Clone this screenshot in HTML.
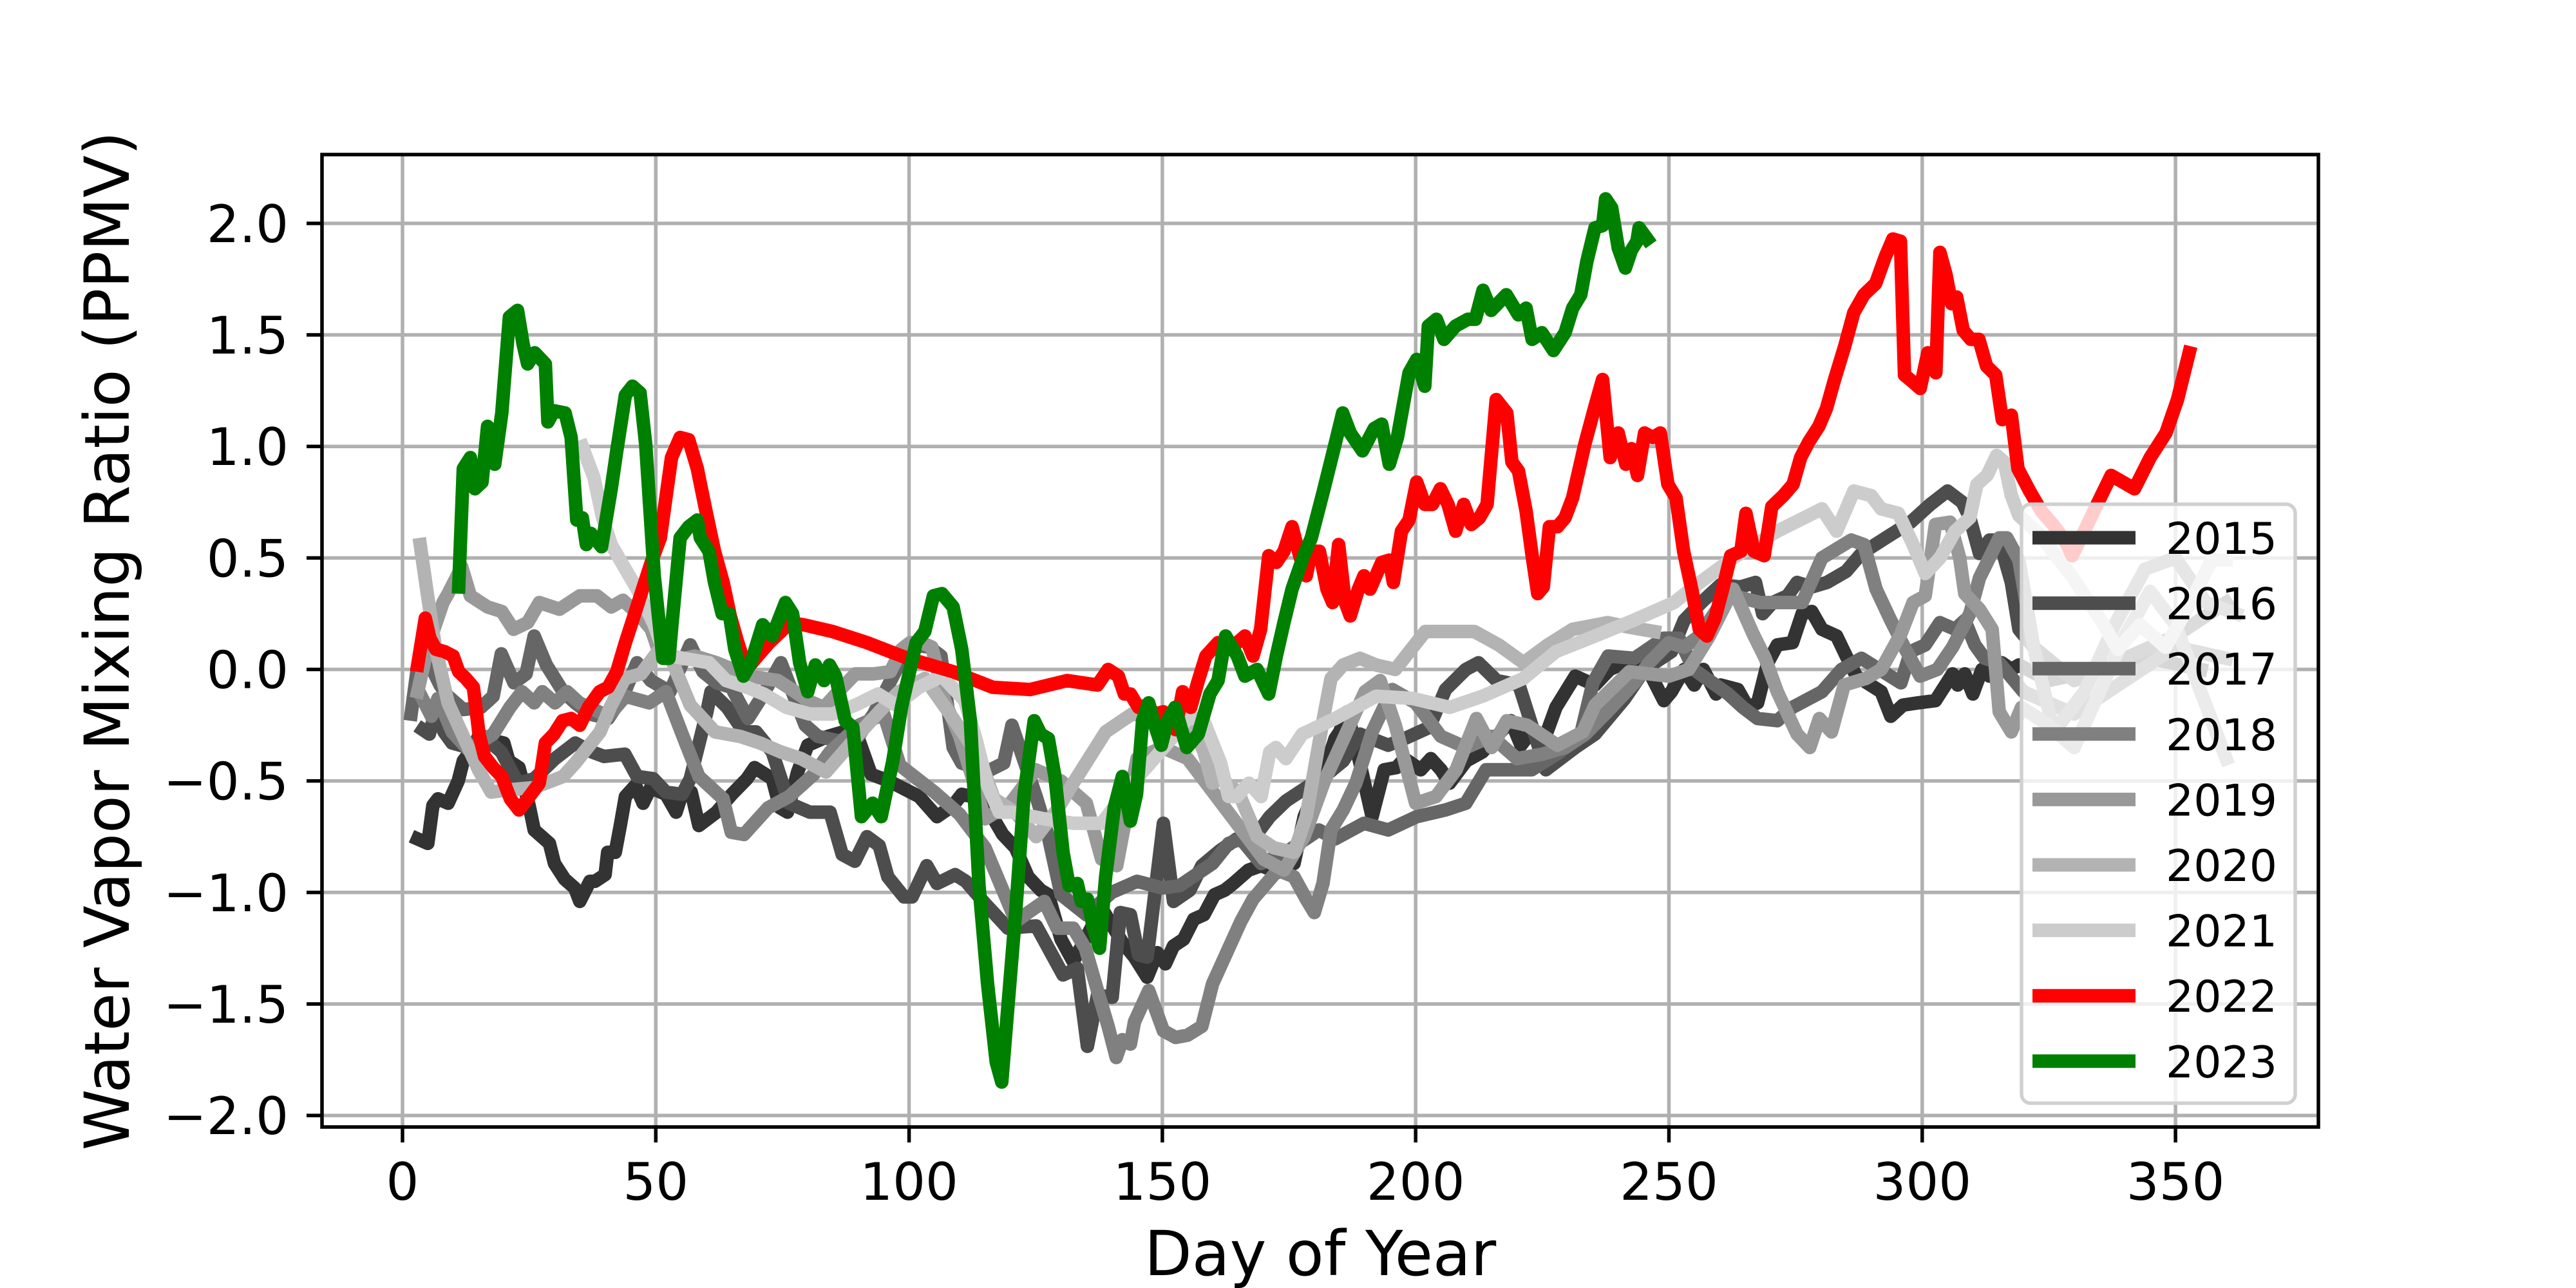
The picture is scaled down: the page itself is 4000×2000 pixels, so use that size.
<!DOCTYPE html>
<html><head><meta charset="utf-8">
<style>
html,body{margin:0;padding:0;background:#fff;}
svg{display:block;font-family:"DejaVu Sans","Liberation Sans",sans-serif;}
</style></head>
<body>
<svg id="chart" width="4000" height="2000" viewBox="0 0 4000 2000" xmlns="http://www.w3.org/2000/svg">
<rect x="0" y="0" width="4000" height="2000" fill="#fff"/>
<g id="grid"></g>
<g id="series"></g>
<g id="axes"></g>
<g id="legend"></g>
<text x="2050" y="1980" font-size="96" text-anchor="middle">Day of Year</text>
<text transform="translate(200,995) rotate(-90)" font-size="96" text-anchor="middle">Water Vapor Mixing Ratio (PPMV)</text>
</svg>
<script>
const xTicks = [0, 50, 100, 150, 200, 250, 300, 350];
const yTicks = [-2.0, -1.5, -1.0, -0.5, 0.0, 0.5, 1.0, 1.5, 2.0];
const years = ["2015","2016","2017","2018","2019","2020","2021","2022","2023"];
const colors = ["#333333","#4d4d4d","#666666","#808080","#999999","#b3b3b3","#cccccc","#ff0000","#008000"];

const d2015 = [3,5,6,7,9,11,12,14,15,16,18,20,21,23,25,26,29,30,32,34,35,37,38,40,40.5,42,43,44,46,47.5,49,52,54,55,57,58.5,62,65,68,69.5,73,74.5,76,78,80,84,87,90,92.5,96,102,105.5,108.7,110.4,114.4,118.5,121,123.5,126,127.5,130,132.4,135,138,142,144.5,147,149,150.6,152.2,154.2,156.2,158.2,160.3,162.3,164,167,169.5,172.8,176,178,182.5,184.1,185,186.5,189,191.4,193.8,196.2,197.8,201,203,205,206.7,210,213.2,216.4,218.8,220.8,222.8,225.3,227.7,231.5,235.4,238.3,241.3,245.2,249,250.5,253,255,256.8,259.3,260.2,263.6,265.6,267.5,269.5,271.4,274.4,276.3,278.2,280.2,283.1,285,287,291.9,293.8,296.2,299.2,302.6,306,307,308.4,310,311.8,313.3,315.7,317.6,319.1,325,335,345,355,362];
const v2015 = [-0.76,-0.78,-0.61,-0.58,-0.6,-0.5,-0.41,-0.35,-0.3,-0.33,-0.32,-0.33,-0.41,-0.44,-0.61,-0.72,-0.78,-0.87,-0.94,-0.98,-1.04,-0.95,-0.95,-0.92,-0.82,-0.82,-0.7,-0.57,-0.52,-0.6,-0.53,-0.56,-0.64,-0.57,-0.55,-0.7,-0.64,-0.56,-0.49,-0.44,-0.49,-0.62,-0.64,-0.46,-0.34,-0.3,-0.28,-0.31,-0.47,-0.5,-0.57,-0.66,-0.61,-0.56,-0.58,-0.74,-0.8,-0.93,-0.99,-1.01,-1.21,-1.31,-1.2,-1.07,-1.22,-1.29,-1.38,-1.27,-1.32,-1.24,-1.21,-1.12,-1.1,-1.01,-0.99,-0.96,-0.9,-0.88,-0.91,-0.87,-0.66,-0.42,-0.31,-0.28,-0.19,-0.42,-0.66,-0.45,-0.44,-0.4,-0.45,-0.4,-0.45,-0.51,-0.41,-0.37,-0.29,-0.23,-0.34,-0.28,-0.32,-0.17,-0.03,-0.07,0.0,0.03,0.03,-0.14,-0.1,0.0,-0.07,0.0,-0.11,-0.07,-0.09,-0.17,-0.15,0.03,0.11,0.12,0.25,0.26,0.18,0.15,0.06,-0.03,-0.1,-0.21,-0.16,-0.15,-0.14,-0.02,-0.07,-0.02,-0.11,0.0,-0.03,0.03,0.0,0.02,-0.05,0.0,0.05,0.0];

const d2016 = [4,5.3,6.5,8.2,9.8,13,16,19.5,22.8,26,30.1,34.1,37.4,39.8,43.9,46.3,49.5,52,55.2,56.8,60.1,60.9,64.1,67.4,69.8,73,76.3,80.4,84.4,86.8,89.3,91.7,94.1,95.8,99,100.6,103.5,105.5,109.1,111.2,115,119.5,125.1,130.4,133.2,135.2,137.2,140.1,141.7,143.7,145.3,147,150.2,152.2,155.4,157.8,161.5,164.7,167.9,171.2,174.4,178.4,182.5,185.7,189,194.6,197.8,202.7,205.9,209.9,212.4,216,220.4,225.7,231.5,235.4,241.3,245.2,250.5,253,256.4,260.2,264.1,267.1,268.5,270.5,273.4,275.3,278.2,281.2,285,288,292.8,297.7,301.6,305,307.9,309.4,311.3,313.3,315.2,317.6,319.1,322,330,340,350,360];
const v2016 = [-0.27,-0.29,-0.19,-0.28,-0.33,-0.35,-0.3,-0.37,-0.51,-0.49,-0.4,-0.33,-0.37,-0.39,-0.38,-0.48,-0.49,-0.55,-0.56,-0.49,-0.19,-0.1,-0.17,-0.28,-0.28,-0.37,-0.6,-0.64,-0.64,-0.83,-0.86,-0.75,-0.79,-0.93,-1.02,-1.02,-0.88,-0.96,-0.92,-0.95,-1.05,-1.16,-1.15,-1.37,-1.34,-1.69,-1.46,-1.47,-1.09,-1.1,-1.28,-1.29,-0.69,-1.04,-0.99,-0.88,-0.81,-0.76,-0.76,-0.66,-0.59,-0.53,-0.47,-0.41,-0.29,-0.34,-0.31,-0.26,-0.09,0.0,0.03,-0.05,-0.07,-0.45,-0.35,-0.29,-0.13,0.0,0.08,0.22,0.3,0.38,0.37,0.39,0.25,0.3,0.33,0.39,0.37,0.39,0.44,0.52,0.59,0.66,0.74,0.8,0.75,0.68,0.52,0.58,0.58,0.39,0.18,0.1,-0.05,0.05,0.15,0.3];

const d2017 = [1.7,2.9,5.7,7.4,9,12,15.5,17.9,19.5,22,24.4,26,28.4,31.7,34.1,37,40.6,43.5,46.3,49,52.8,56.8,59.3,62,64.9,68.2,71,74.7,79.5,82,86,90,93,96.6,98.2,100.6,104,106.3,108.7,110.4,115.2,118.7,120.3,125.1,127.5,130,135,140,145,150,153.4,159.9,163.1,165.5,169.5,174.4,180.9,184.1,189.8,194.6,200.2,205.9,209.9,213.9,222.9,228.5,232.6,235,238,243.2,249,252,254.9,261.7,264.6,267.5,271.4,274.4,280.2,284.1,288,295.8,297.7,300.6,303.5,306.5,308.4,310.4,312.3,315.2,320,330,340,350,360];
const v2017 = [-0.2,0.0,0.01,-0.07,-0.12,-0.18,-0.17,-0.12,0.07,-0.06,-0.02,0.15,0.02,-0.1,-0.15,-0.2,-0.22,-0.12,0.03,-0.05,-0.1,0.11,-0.01,-0.06,-0.08,-0.22,-0.12,0.03,-0.25,-0.3,-0.32,-0.3,-0.2,-0.04,0.03,0.11,0.1,0.06,-0.35,-0.42,-0.46,-0.42,-0.25,-0.57,-0.75,-1.01,-1.1,-1.0,-0.95,-0.98,-0.97,-0.87,-0.78,-0.76,-0.87,-0.82,-0.72,-0.76,-0.69,-0.72,-0.66,-0.63,-0.6,-0.45,-0.45,-0.37,-0.29,-0.06,0.06,0.05,0.14,0.14,0.0,-0.11,-0.17,-0.22,-0.23,-0.17,-0.1,0.0,0.05,-0.06,0.08,0.11,0.21,0.18,0.22,0.11,0.05,0.03,-0.1,-0.2,-0.05,0.1,0.05];

const d2018 = [3.7,5.7,7,9.8,13,17.9,21.2,23.6,26,27.6,30.1,32.5,34.9,40.6,44,48.7,52,55.2,58.5,63.3,64.9,67.4,72.2,76.3,81.2,84.4,90.1,95,98.2,101,105,110,115,121.1,123.5,126.7,129.2,132.4,134.8,137.2,139.3,140.9,142.1,143.7,144.5,147.3,150.2,152.6,155,157.8,159.9,163.1,165.5,167.9,172.8,176,178.4,180,181.7,183.3,185.7,188.2,191.4,195.4,200,205,210,215,220,225,229.6,233.5,237.4,243.2,246.1,250,253,256,259.8,262.7,268,276.3,280.2,286,288.5,290.9,293.8,296.7,299.6,303,306,309.4,311.3,315.2,316.7,319.1,322,326,332,338,344,350,356,362];
const v2018 = [-0.12,-0.21,-0.13,-0.28,-0.36,-0.29,-0.17,-0.1,-0.15,-0.1,-0.15,-0.1,-0.15,-0.21,-0.12,-0.15,-0.1,-0.29,-0.48,-0.58,-0.73,-0.74,-0.62,-0.57,-0.47,-0.37,-0.25,-0.2,-0.43,-0.48,-0.55,-0.65,-0.8,-1.13,-1.09,-1.04,-1.16,-1.16,-1.25,-1.44,-1.6,-1.74,-1.66,-1.68,-1.58,-1.44,-1.62,-1.65,-1.64,-1.6,-1.41,-1.25,-1.13,-1.03,-0.9,-0.93,-1.03,-1.09,-0.96,-0.72,-0.63,-0.51,-0.28,-0.09,-0.15,-0.3,-0.35,-0.3,-0.4,-0.38,-0.35,-0.29,-0.2,-0.06,0.03,0.12,0.1,0.15,0.28,0.33,0.3,0.3,0.5,0.58,0.56,0.36,0.22,0.09,-0.03,0.0,0.1,0.25,0.41,0.59,0.59,0.49,0.1,-0.28,-0.1,0.2,0.45,0.5,0.3,0.25];

const d2019 = [3,5,8,9,11.7,13.4,16.8,19.6,21.9,24.7,27,31,35,38.4,41.2,43.5,46.9,49.1,50.9,54,57.7,62,68.4,74.1,77.5,80,83.2,86,89.4,93,96.3,98.5,100.2,102.5,104.5,107,110,112,115,120,125,130,135,138,141,145,150,155,160,165,170,174,178,182,186,190,193,196,200,204,208,212,215,218,222,228,233,235.4,242.2,250,253.9,258,262.7,266.6,269,271.4,275.3,277.8,279.7,282.1,284.6,288.9,291.9,295.8,298.2,300.6,302.6,305.5,307.4,308.4,311.3,313.8,315.2,317.6,319.6,325,330,335,340,345,350,355,360];
const v2019 = [-0.1,0.1,0.3,0.34,0.46,0.33,0.28,0.26,0.18,0.21,0.3,0.27,0.33,0.33,0.28,0.31,0.24,0.18,0.06,0.04,0.06,0.03,-0.03,-0.05,-0.1,-0.14,-0.17,-0.1,-0.02,-0.02,-0.01,0.09,0.12,0.12,0.1,-0.14,-0.3,-0.45,-0.67,-0.6,-0.45,-0.5,-0.6,-0.85,-0.88,-0.4,-0.35,-0.4,-0.55,-0.7,-0.85,-0.9,-0.75,-0.5,-0.3,-0.1,-0.05,-0.25,-0.6,-0.57,-0.45,-0.22,-0.35,-0.23,-0.25,-0.34,-0.28,-0.16,-0.01,-0.03,0.0,0.15,0.36,0.16,0.05,-0.1,-0.29,-0.35,-0.22,-0.28,-0.07,-0.04,0.0,0.16,0.3,0.33,0.65,0.66,0.5,0.34,0.27,0.18,-0.19,-0.28,-0.17,-0.25,-0.35,-0.1,0.15,0.35,0.2,-0.1,-0.4];

const d2020 = [3.5,4.9,6.5,9,12,15,17.5,21,26,31.7,34.1,39,41,43.9,47.1,50.4,53,56.8,61.7,66.6,70.6,74.7,78.7,83.6,90.1,94.1,98,103.1,108.7,112,114.4,116.8,120.9,125.1,129.2,132.4,138.8,144,149.4,155.4,158.2,159.9,161.5,165,168.7,172,176,178.4,180,181.7,183.3,185.7,189,192.2,196,201.9,211.6,216.4,221.3,226.1,231,237.9,242,247.1];
const v2020 = [0.56,0.34,0.1,-0.15,-0.3,-0.45,-0.55,-0.54,-0.53,-0.48,-0.42,-0.28,-0.17,-0.04,-0.02,0.08,0.05,-0.16,-0.28,-0.3,-0.33,-0.37,-0.4,-0.46,-0.29,-0.19,-0.1,-0.04,-0.22,-0.33,-0.43,-0.58,-0.64,-0.75,-0.63,-0.51,-0.28,-0.2,-0.22,-0.22,-0.37,-0.51,-0.49,-0.55,-0.75,-0.8,-0.82,-0.66,-0.45,-0.23,-0.04,0.02,0.05,0.02,0.0,0.17,0.17,0.11,0.03,0.11,0.18,0.21,0.19,0.17];

const d2021 = [35.5,37.8,39.5,41.2,44,46.3,49.7,51.4,53.1,55.4,60.5,63.9,68,71.3,75.8,80.4,84.9,89.4,93.9,97.4,102,106.5,111,113.3,115.5,117.8,120.1,126.7,132.4,138,145.3,151.8,155,158,161.5,163.1,164.7,167.1,169.5,171.2,172.4,174.4,177.6,184.1,192.2,199.4,206.7,213.2,221.3,227.7,235.4,243,251,254.9,262.7,271.4,280.2,283.1,286.5,289.9,291.9,295.3,298.2,300.6,303.5,306.5,309.4,310.8,312.8,314.7,316.2,317.6,319.1,323,329.8,335.6,338.6,343,348,353,357.1,360];
const v2021 = [1.0,0.86,0.68,0.56,0.45,0.36,0.2,0.09,0.06,0.05,0.03,-0.05,-0.08,-0.11,-0.17,-0.2,-0.2,-0.16,-0.11,-0.16,-0.08,-0.03,-0.14,-0.32,-0.52,-0.64,-0.64,-0.67,-0.69,-0.69,-0.48,-0.31,-0.22,-0.22,-0.42,-0.57,-0.57,-0.51,-0.57,-0.37,-0.35,-0.4,-0.29,-0.22,-0.12,-0.13,-0.17,-0.12,-0.04,0.08,0.15,0.22,0.3,0.37,0.5,0.62,0.72,0.62,0.8,0.78,0.72,0.7,0.56,0.43,0.5,0.62,0.68,0.83,0.87,0.96,0.93,0.78,0.69,0.61,0.41,0.21,0.09,0.2,0.1,0.3,0.49,0.49];

const d2022 = [3,4.5,5.4,6.6,8.3,10,11.1,12.5,14,15.1,16.2,17.9,19.6,21.3,23,24.7,27,28.2,29.9,31.6,33.3,35,36.7,38.9,40.6,42.3,44,45.7,47.4,49.1,50.9,52,53.1,54.8,56.5,58.2,59.9,61.6,63.3,64.7,66.2,67.9,70.1,72.4,74.7,76.4,79.2,84.9,91.7,99.7,108.7,116.5,123.9,131.2,137.2,139.3,141.3,142.5,143.7,145.3,147,148.5,150.2,151.4,152.6,154,155.6,157.1,158.6,161,163.3,166.3,167.9,169.4,171,172.5,174,175.6,177.1,178.4,179.4,181,182.5,183.6,184.8,186.1,187.1,188.7,189.8,191,193.3,194.8,195.6,197.2,198.7,200.2,201.8,203.3,204.9,206.4,207.9,209.5,211,212.6,214.1,215.9,218,219,220.3,221.8,223,224.1,225.2,226.4,228,229.5,231,233.4,235.4,236.9,238.4,240,241.5,242.6,243.8,245.2,246.8,248.3,249.8,251.4,252.9,254.5,256,257.5,259.1,260.6,262.2,264.2,265.2,266.8,268.8,270.3,272.6,274.5,276,277.6,279.6,281.1,282.7,284.7,286.5,288.5,290.8,292.7,294.2,295.7,296.5,298.1,299.6,301.1,302.7,303.5,304.7,305.8,306.8,308.1,309.6,311.2,312.7,314.5,315.8,317.6,318.9,321.2,323.5,325.8,328.1,329.6,332,334.3,337.3,341.9,345,348.1,350.4,352.7];
const v2022 = [0.02,0.23,0.14,0.09,0.08,0.06,-0.01,-0.04,-0.08,-0.29,-0.39,-0.44,-0.48,-0.58,-0.63,-0.58,-0.51,-0.33,-0.29,-0.23,-0.22,-0.25,-0.17,-0.1,-0.08,-0.01,0.12,0.24,0.36,0.48,0.59,0.77,0.95,1.04,1.03,0.9,0.71,0.53,0.39,0.24,0.12,0.0,0.06,0.12,0.17,0.21,0.2,0.17,0.12,0.05,-0.01,-0.08,-0.09,-0.05,-0.07,0.0,-0.03,-0.11,-0.11,-0.17,-0.16,-0.2,-0.19,-0.24,-0.27,-0.1,-0.17,-0.05,0.06,0.12,0.09,0.15,0.06,0.18,0.51,0.48,0.53,0.64,0.51,0.42,0.53,0.53,0.36,0.3,0.56,0.3,0.24,0.36,0.42,0.36,0.48,0.49,0.39,0.62,0.67,0.84,0.74,0.74,0.81,0.74,0.62,0.74,0.65,0.68,0.74,1.21,1.15,0.93,0.89,0.71,0.51,0.34,0.37,0.64,0.64,0.68,0.77,1.01,1.18,1.3,0.95,1.06,0.92,0.99,0.87,1.06,1.04,1.06,0.83,0.77,0.53,0.36,0.18,0.15,0.23,0.36,0.51,0.53,0.7,0.53,0.51,0.73,0.78,0.83,0.95,1.02,1.09,1.17,1.3,1.45,1.6,1.68,1.73,1.85,1.93,1.92,1.32,1.29,1.26,1.42,1.33,1.87,1.77,1.64,1.67,1.52,1.48,1.48,1.36,1.32,1.12,1.14,0.9,0.8,0.71,0.65,0.58,0.51,0.62,0.73,0.87,0.81,0.95,1.06,1.21,1.42];

const d2023 = [11.1,12,13.4,14.3,15.7,16.8,18.2,19.6,21.1,22.7,23.8,24.7,26.1,28.2,28.7,29.9,32.1,33.3,34.4,35.5,36.3,37.2,39.3,41.2,42.3,44,45.4,46.9,48,49.7,51.4,52.6,53.1,54.8,56.5,58.2,58.8,60.5,61.6,63.1,64.5,65.6,67.3,68.8,71.1,73,75.6,77,78.4,80,81.5,83.2,84.3,85.5,87.4,88.9,90.6,92.8,94.5,96.8,98.5,101.4,103.1,104.8,106.5,108.7,110.4,112.1,113.8,115.5,117.2,118.3,121.1,122.7,124.7,126,127.5,128.8,130.4,131.6,133.2,134,135.2,136.4,137.6,138.8,140.5,142.1,143.7,144.9,146.1,147.3,148.5,149.8,151,152.5,154.8,157.1,159.4,161,162.5,164.8,166.3,168.7,171,172.5,174,175.6,177.9,179.4,181.8,184.1,185.6,187.1,189.5,191.8,193.3,194.8,196.4,198.7,200.2,201.8,202.5,204.1,205.6,207.9,210.3,211.8,213.3,214.9,217.9,220.3,221.8,223,224.9,227.2,229.5,231,232.6,233.8,235.4,236.9,237.5,238.7,240,241.4,242.6,243.7,244.1,245.7];
const v2023 = [0.37,0.9,0.95,0.81,0.84,1.09,0.92,1.15,1.58,1.61,1.46,1.37,1.42,1.37,1.11,1.16,1.15,1.04,0.67,0.68,0.56,0.61,0.55,0.81,0.98,1.23,1.27,1.24,1.01,0.42,0.05,0.05,0.18,0.59,0.64,0.67,0.59,0.53,0.39,0.25,0.25,0.09,-0.03,0.03,0.2,0.15,0.3,0.25,0.03,-0.1,0.02,-0.05,0.02,-0.03,-0.23,-0.26,-0.66,-0.6,-0.66,-0.41,-0.17,0.12,0.17,0.33,0.34,0.28,0.09,-0.23,-0.97,-1.41,-1.76,-1.85,-1.07,-0.56,-0.23,-0.29,-0.31,-0.48,-0.82,-0.97,-0.96,-1.04,-1.03,-1.16,-1.25,-0.93,-0.62,-0.48,-0.68,-0.56,-0.23,-0.15,-0.25,-0.34,-0.23,-0.17,-0.35,-0.29,-0.11,-0.05,0.15,0.06,-0.03,0.0,-0.11,0.06,0.21,0.36,0.51,0.59,0.8,1.01,1.15,1.06,0.98,1.08,1.1,0.92,1.04,1.33,1.39,1.27,1.54,1.57,1.48,1.54,1.57,1.57,1.7,1.61,1.68,1.59,1.62,1.48,1.51,1.43,1.51,1.62,1.68,1.83,1.98,1.99,2.11,2.07,1.89,1.8,1.88,1.92,1.98,1.93];

const seriesDays = [d2015,d2016,d2017,d2018,d2019,d2020,d2021,d2022,d2023];
const seriesVals = [v2015,v2016,v2017,v2018,v2019,v2020,v2021,v2022,v2023];

const NS = "http://www.w3.org/2000/svg";
const PL = 500, PR = 3600, PT = 240, PB = 1750;
function xScale(d){ return 625 + d * 7.866; }
function yScale(v){ return 1039.5 - v * 346.3; }
function mk(tag, attrs, parent){ const e = document.createElementNS(NS, tag); for (const k in attrs) e.setAttribute(k, attrs[k]); parent.appendChild(e); return e; }

const grid = document.getElementById('grid');
const axes = document.getElementById('axes');
xTicks.forEach(t => {
  const x = xScale(t);
  const g = mk('line', {x1:x, x2:x, y1:PT, y2:PB, stroke:'#b0b0b0', 'stroke-width':5.5}, grid);
  
  
  const tk = mk('line', {x1:x, x2:x, y1:PB, y2:PB+24, stroke:'#000', 'stroke-width':5.5}, axes);
  
  
  const lb = mk('text', {x:x, y:1863, 'font-size':80, 'text-anchor':'middle'}, axes);
  lb.textContent = String(t);
  
  
});
yTicks.forEach(t => {
  const y = yScale(t);
  const g = mk('line', {x1:PL, x2:PR, y1:y, y2:y, stroke:'#b0b0b0', 'stroke-width':5.5}, grid);
  
  
  const tk = mk('line', {x1:PL-24, x2:PL, y1:y, y2:y, stroke:'#000', 'stroke-width':5.5}, axes);
  
  
  const lb = mk('text', {x:448, y:y+29, 'font-size':80, 'text-anchor':'end'}, axes);
  lb.textContent = (t < 0 ? '\u2212' : '') + Math.abs(t).toFixed(1);
  
  
});
const frame = mk('rect', {x:PL, y:PT, width:PR-PL, height:PB-PT, fill:'none', stroke:'#000', 'stroke-width':5.5}, axes);



const series = document.getElementById('series');
years.forEach((yr, i) => {
  const ds = seriesDays[i], vs = seriesVals[i];
  const pts = ds.map((d, j) => xScale(d).toFixed(1) + ',' + yScale(vs[j]).toFixed(1)).join(' ');
  const p = mk('polyline', {points:pts, fill:'none', stroke:colors[i], 'stroke-width':21, 'stroke-linejoin':'round', 'stroke-linecap':'square'}, series);
  
  
});

const legend = document.getElementById('legend');
const box = mk('rect', {x:3139, y:783, width:425, height:930, rx:14, fill:'#fff', 'fill-opacity':0.8, stroke:'#d0d0d0', 'stroke-width':5.5}, legend);


years.forEach((yr, i) => {
  const cy = 835 + i * 101.6;
  const g = mk('g', {}, legend);
  
  
  const ln = mk('line', {x1:3156, x2:3316, y1:cy, y2:cy, stroke:colors[i], 'stroke-width':21}, g);
  
  
  const tx = mk('text', {x:3363, y:cy+25, 'font-size':68}, g);
  tx.textContent = yr;
  
  
});
</script>
</body></html>
